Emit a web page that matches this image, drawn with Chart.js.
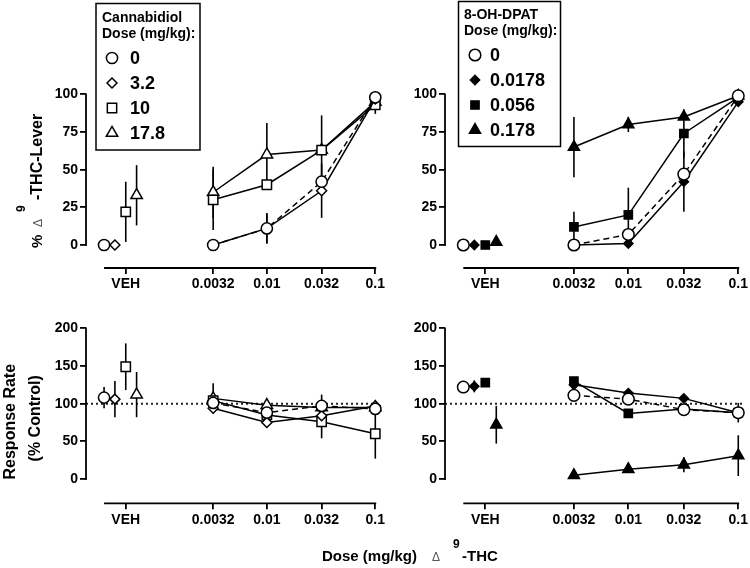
<!DOCTYPE html>
<html>
<head>
<meta charset="utf-8">
<script src="https://cdn.jsdelivr.net/npm/chart.js@4.4.1/dist/chart.umd.min.js"></script>
<style>
  body { margin: 0; background: #fff; }
  #wrap { position: relative; width: 750px; height: 568px; overflow: hidden; background: #fff; }
  canvas { position: absolute; }
</style>
</head>
<body>
<div id="wrap">
  <canvas id="tl" width="395" height="300" style="left:0px;top:0px;width:395px;height:300px"></canvas>
  <canvas id="tr" width="375" height="300" style="left:375px;top:0px;width:375px;height:300px"></canvas>
  <canvas id="bl" width="750" height="268" style="left:0px;top:300px;width:750px;height:268px"></canvas>
  <canvas id="br" width="375" height="268" style="left:375px;top:300px;width:375px;height:268px"></canvas>
</div>
<script>
// ---------------- DATA ----------------
const doseLabels = ['VEH', '0.0032', '0.01', '0.032', '0.1'];
const doses = [0.0005, 0.0032, 0.01, 0.032, 0.1];   // VEH shown left of the dose range
const leverTicks = [0, 25, 50, 75, 100];
const rateTicks = [0, 50, 100, 150, 200];

const cbdLegend = ['0', '3.2', '10', '17.8'];
const dpatLegend = ['0', '0.0178', '0.056', '0.178'];

// % Δ9-THC-lever responding, cannabidiol pretreatment
const cbdLever0  = [0, 0, 11, 42, 98];
const cbdLever3  = [0, 0, 11, 36, 97];
const cbdLever10 = [22, 30, 40, 63, 93];
const cbdLever17 = [33, 35, 60, 63, 95];
const cbdLeverErr0  = [0, 0, 10, 0, 0];
const cbdLeverErr3  = [0, 0, 10, 18, 0];
const cbdLeverErr10 = [20, 20, 0, 0, 6];
const cbdLeverErr17 = [20, 17, 21, 23, 0];

// % Δ9-THC-lever responding, 8-OH-DPAT pretreatment
const dpatLever0    = [0, 0, 7, 47, 99];
const dpatLever0178 = [0, 0, 1, 42, 95];
const dpatLever056  = [0, 12, 20, 74, 98];
const dpatLever178  = [2, 65, 80, 85, 99];
const dpatLeverErr0    = [0, 0, 0, 0, 0];
const dpatLeverErr0178 = [0, 0, 0, 20, 0];
const dpatLeverErr056  = [0, 10, 18, 16, 0];
const dpatLeverErr178  = [0, 20, 5, 0, 0];

// Response rate (% control), cannabidiol pretreatment
const cbdRate0  = [108, 101, 88, 97, 93];
const cbdRate3  = [106, 94, 75, 84, 97];
const cbdRate10 = [149, 104, 85, 76, 60];
const cbdRate17 = [112, 107, 98, 95, 95];
const cbdRateErr0  = [14, 0, 0, 15, 0];
const cbdRateErr3  = [24, 0, 0, 0, 0];
const cbdRateErr10 = [31, 0, 0, 22, 33];
const cbdRateErr17 = [30, 20, 0, 0, 0];

// Response rate (% control), 8-OH-DPAT pretreatment
const dpatRate0    = [122, 111, 106, 92, 88];
const dpatRate0178 = [123, 125, 114, 107, 88];
const dpatRate056  = [128, 130, 87, 93, 88];
const dpatRate178  = [72, 5, 13, 19, 31];
const dpatRateErr0    = [0, 0, 0, 0, 13];
const dpatRateErr0178 = [8, 0, 0, 0, 0];
const dpatRateErr056  = [0, 0, 0, 0, 0];
const dpatRateErr178  = [25, 0, 3, 10, 27];

// ---------------- STYLE ----------------
const FONT = "'Liberation Sans', Arial, Helvetica, sans-serif";
Chart.defaults.font.family = FONT;
const VEH_JITTER = [-0.2, -0.1, 0, 0.1];   // decades, to separate vehicle symbols
const cbdStyle = {
  shapes: ['circle', 'rectRot', 'rect', 'triangle'],
  radii: [5.6, 5, 6.6, 6.6],
  fills: ['#fff', '#fff', '#fff', '#fff']
};
const dpatStyle = {
  shapes: ['circle', 'rectRot', 'rect', 'triangle'],
  radii: [5.8, 4.6, 5.8, 6.4],
  fills: ['#fff', '#000', '#000', '#000']
};

function drawMarker(ctx, style, x, y, r, fill) {
  ctx.beginPath();
  if (style === 'circle') ctx.arc(x, y, r, 0, Math.PI * 2);
  else if (style === 'rectRot') { ctx.moveTo(x - r, y); ctx.lineTo(x, y - r); ctx.lineTo(x + r, y); ctx.lineTo(x, y + r); ctx.closePath(); }
  else if (style === 'rect') { const s = r * Math.SQRT1_2; ctx.rect(x - s, y - s, 2 * s, 2 * s); }
  else if (style === 'triangle') {
    let a = 0; ctx.moveTo(x + Math.sin(a) * r, y - Math.cos(a) * r);
    a += 2 * Math.PI / 3; ctx.lineTo(x + Math.sin(a) * r, y - Math.cos(a) * r);
    a += 2 * Math.PI / 3; ctx.lineTo(x + Math.sin(a) * r, y - Math.cos(a) * r);
    ctx.closePath();
  }
  ctx.fillStyle = fill; ctx.fill();
  ctx.lineWidth = 1.5; ctx.strokeStyle = '#000'; ctx.stroke();
}

const panelPlugin = {
  id: 'panel',
  beforeDatasetsDraw(chart) {
    const o = chart.options.plugins.panel;
    const ctx = chart.ctx, xs = chart.scales.x, ys = chart.scales.y, ca = chart.chartArea;
    ctx.save();
    if (o.refLine != null) {
      const y = ys.getPixelForValue(o.refLine);
      ctx.setLineDash([2, 3]); ctx.lineWidth = 2; ctx.strokeStyle = '#222';
      ctx.beginPath(); ctx.moveTo(ca.left, y); ctx.lineTo(ca.right + 4, y); ctx.stroke();
      ctx.setLineDash([]);
    }
    ctx.lineWidth = 1.6; ctx.strokeStyle = '#000';
    chart.data.datasets.forEach((ds, i) => {
      const meta = chart.getDatasetMeta(i);
      ds.err.forEach((e, j) => {
        if (!e) return;
        const p = meta.data[j], v = ds.data[j].y;
        ctx.beginPath();
        ctx.moveTo(p.x, ys.getPixelForValue(v - e));
        ctx.lineTo(p.x, ys.getPixelForValue(v + e));
        ctx.stroke();
      });
    });
    ctx.restore();
  },
  afterDraw(chart) {
    const o = chart.options.plugins.panel;
    const ctx = chart.ctx, xs = chart.scales.x, ys = chart.scales.y, ca = chart.chartArea;
    ctx.save();
    ctx.strokeStyle = '#000'; ctx.lineWidth = 1.8;
    // y axis line (only over data range)
    ctx.beginPath();
    ctx.moveTo(ca.left, ys.getPixelForValue(0) + 0.9);
    ctx.lineTo(ca.left, ys.getPixelForValue(o.yTop) - 0.9);
    ctx.stroke();
    // x axis line (offset from the y axis)
    ctx.beginPath();
    ctx.moveTo(xs.getPixelForValue(doses[0] * Math.pow(10, -0.2)), ca.bottom);
    ctx.lineTo(xs.getPixelForValue(doses[doses.length - 1]) + 0.9, ca.bottom);
    ctx.stroke();

    ctx.fillStyle = '#000';
    if (o.legend) {
      const L = o.legend;
      ctx.lineWidth = 1.5;
      ctx.strokeRect(L.box[0], L.box[1], L.box[2], L.box[3]);
      ctx.textAlign = 'left'; ctx.textBaseline = 'middle';
      ctx.font = 'bold 14px ' + FONT;
      L.title.forEach((t, k) => { ctx.fillStyle = '#000'; ctx.fillText(t, L.titleX, L.titleY[k]); });
      chart.data.datasets.forEach((ds, k) => {
        drawMarker(ctx, ds.pointStyle, L.markerX, L.rowY[k], ds.pointRadius, ds.pointBackgroundColor);
        ctx.fillStyle = '#000';
        ctx.font = 'bold 18px ' + FONT;
        ctx.fillText(L.labels[k], L.labelX, L.rowY[k] + 1);
      });
    }
    if (o.leverTitle) {
      const t = o.leverTitle;
      ctx.save();
      ctx.translate(t.x, t.y); ctx.rotate(-Math.PI / 2);
      ctx.textAlign = 'left'; ctx.textBaseline = 'alphabetic';
      ctx.fillStyle = '#000';
      ctx.font = 'bold 15px ' + FONT; ctx.fillText('%', 0, 0);
      ctx.fillStyle = '#555'; ctx.font = '12px ' + FONT; ctx.fillText('\u0394', 21, 0);
      ctx.fillStyle = '#000'; ctx.font = 'bold 12px ' + FONT; ctx.fillText('9', 36, -17);
      ctx.font = 'bold 16px ' + FONT; ctx.fillText('-THC-Lever', 48, 0);
      ctx.restore();
    }
    if (o.rateTitle) {
      const t = o.rateTitle;
      ctx.save();
      ctx.textAlign = 'center'; ctx.textBaseline = 'alphabetic'; ctx.fillStyle = '#000';
      ctx.font = 'bold 16px ' + FONT;
      ctx.translate(t.x1, t.y1); ctx.rotate(-Math.PI / 2); ctx.fillText('Response Rate', 0, 0);
      ctx.restore(); ctx.save();
      ctx.textAlign = 'center'; ctx.textBaseline = 'alphabetic'; ctx.fillStyle = '#000';
      ctx.font = 'bold 16px ' + FONT;
      ctx.translate(t.x2, t.y2); ctx.rotate(-Math.PI / 2); ctx.fillText('(% Control)', 0, 0);
      ctx.restore();
    }
    if (o.doseTitle) {
      const t = o.doseTitle;
      ctx.textAlign = 'left'; ctx.textBaseline = 'alphabetic';
      ctx.fillStyle = '#000'; ctx.font = 'bold 15px ' + FONT;
      ctx.fillText('Dose (mg/kg)', t.x, t.y);
      ctx.fillStyle = '#555'; ctx.font = '12px ' + FONT;
      ctx.fillText('\u0394', t.x + 110, t.y);
      ctx.fillStyle = '#000'; ctx.font = 'bold 12px ' + FONT;
      ctx.fillText('9', t.x + 131, t.y - 13.5);
      ctx.font = 'bold 15px ' + FONT;
      ctx.fillText('-THC', t.x + 140, t.y);
    }
    ctx.restore();
  }
};

function makePanel(id, cfg) {
  const st = cfg.style;
  const datasets = cfg.series.map((vals, i) => ({
    data: vals.map((v, j) => ({ x: j === 0 ? doses[0] * Math.pow(10, VEH_JITTER[i]) : doses[j], y: v })),
    err: cfg.errs[i],
    borderColor: '#000',
    borderWidth: 1.5,
    borderDash: i === 0 ? [6, 4] : [],
    segment: { borderColor: c => (c.p0DataIndex === 0 ? 'rgba(0,0,0,0)' : '#000') },
    pointStyle: st.shapes[i],
    pointRadius: st.radii[i],
    pointBackgroundColor: st.fills[i],
    pointBorderColor: '#000',
    pointBorderWidth: 1.5,
    tension: 0,
    fill: false,
    clip: false
  }));
  const tickFont = { family: FONT, size: 14, weight: 'bold' };
  return new Chart(document.getElementById(id), {
    type: 'line',
    data: { datasets },
    options: {
      responsive: false, animation: false, devicePixelRatio: 1,
      layout: { padding: cfg.padding },
      events: [],
      plugins: { legend: { display: false }, tooltip: { enabled: false }, panel: cfg.panel },
      scales: {
        x: {
          type: 'logarithmic', bounds: 'data', min: 0.000215, max: 0.1,
          afterBuildTicks: s => { s.ticks = doses.map(v => ({ value: v })); },
          afterFit: s => { s.height = cfg.xH; },
          ticks: { callback: (v, i) => doseLabels[i], autoSkip: false, maxRotation: 0, minRotation: 0, color: '#000', font: tickFont, padding: 2 },
          grid: { display: true, drawOnChartArea: false, drawTicks: true, tickLength: 6, color: '#000', lineWidth: 1.8 },
          border: { display: false }
        },
        y: {
          type: 'linear', bounds: 'data', min: cfg.yMin, max: cfg.yMax,
          afterBuildTicks: s => { s.ticks = cfg.yTicks.map(v => ({ value: v })); },
          afterFit: s => { s.width = cfg.yW; },
          ticks: { color: '#000', font: tickFont, padding: 2 },
          grid: { display: true, drawOnChartArea: false, drawTicks: true, tickLength: 6, color: '#000', lineWidth: 1.8 },
          border: { display: false }
        }
      }
    },
    plugins: [panelPlugin]
  });
}

makePanel('tl', {
  style: cbdStyle,
  series: [cbdLever0, cbdLever3, cbdLever10, cbdLever17],
  errs: [cbdLeverErr0, cbdLeverErr3, cbdLeverErr10, cbdLeverErr17],
  padding: { left: 0, top: 94.3, right: 19.7, bottom: 0 },
  yW: 86, xH: 32, yMin: -15.26, yMax: 100, yTicks: leverTicks,
  panel: {
    yTop: 100,
    legend: { box: [96, 3.5, 104, 146.5], title: ['Cannabidiol', 'Dose (mg/kg):'], titleX: 102, titleY: [18, 34],
              markerX: 112, labelX: 130, rowY: [58, 83, 108, 133], labels: cbdLegend },
    leverTitle: { x: 42, y: 248 }
  }
});

makePanel('tr', {
  style: dpatStyle,
  series: [dpatLever0, dpatLever0178, dpatLever056, dpatLever178],
  errs: [dpatLeverErr0, dpatLeverErr0178, dpatLeverErr056, dpatLeverErr178],
  padding: { left: 0, top: 94.3, right: 10, bottom: 0 },
  yW: 70, xH: 32, yMin: -15.26, yMax: 100, yTicks: leverTicks,
  panel: {
    yTop: 100,
    legend: { box: [83.5, 1.5, 102, 145], title: ['8-OH-DPAT', 'Dose (mg/kg):'], titleX: 89, titleY: [15, 31.5],
              markerX: 100, labelX: 115, rowY: [55, 80, 105, 130], labels: dpatLegend }
  }
});

makePanel('bl', {
  style: cbdStyle,
  series: [cbdRate0, cbdRate3, cbdRate10, cbdRate17],
  errs: [cbdRateErr0, cbdRateErr3, cbdRateErr10, cbdRateErr17],
  padding: { left: 0, top: 28.3, right: 374.7, bottom: 0 },
  yW: 86, xH: 64.7, yMin: -32.25, yMax: 200, yTicks: rateTicks,
  panel: {
    yTop: 200, refLine: 100,
    rateTitle: { x1: 15, y1: 121.7, x2: 39.5, y2: 118.3 },
    doseTitle: { x: 322, y: 261 }
  }
});

makePanel('br', {
  style: dpatStyle,
  series: [dpatRate0, dpatRate0178, dpatRate056, dpatRate178],
  errs: [dpatRateErr0, dpatRateErr0178, dpatRateErr056, dpatRateErr178],
  padding: { left: 0, top: 28.3, right: 10, bottom: 0 },
  yW: 70, xH: 64.7, yMin: -32.25, yMax: 200, yTicks: rateTicks,
  panel: { yTop: 200, refLine: 100 }
});
</script>
</body>
</html>
